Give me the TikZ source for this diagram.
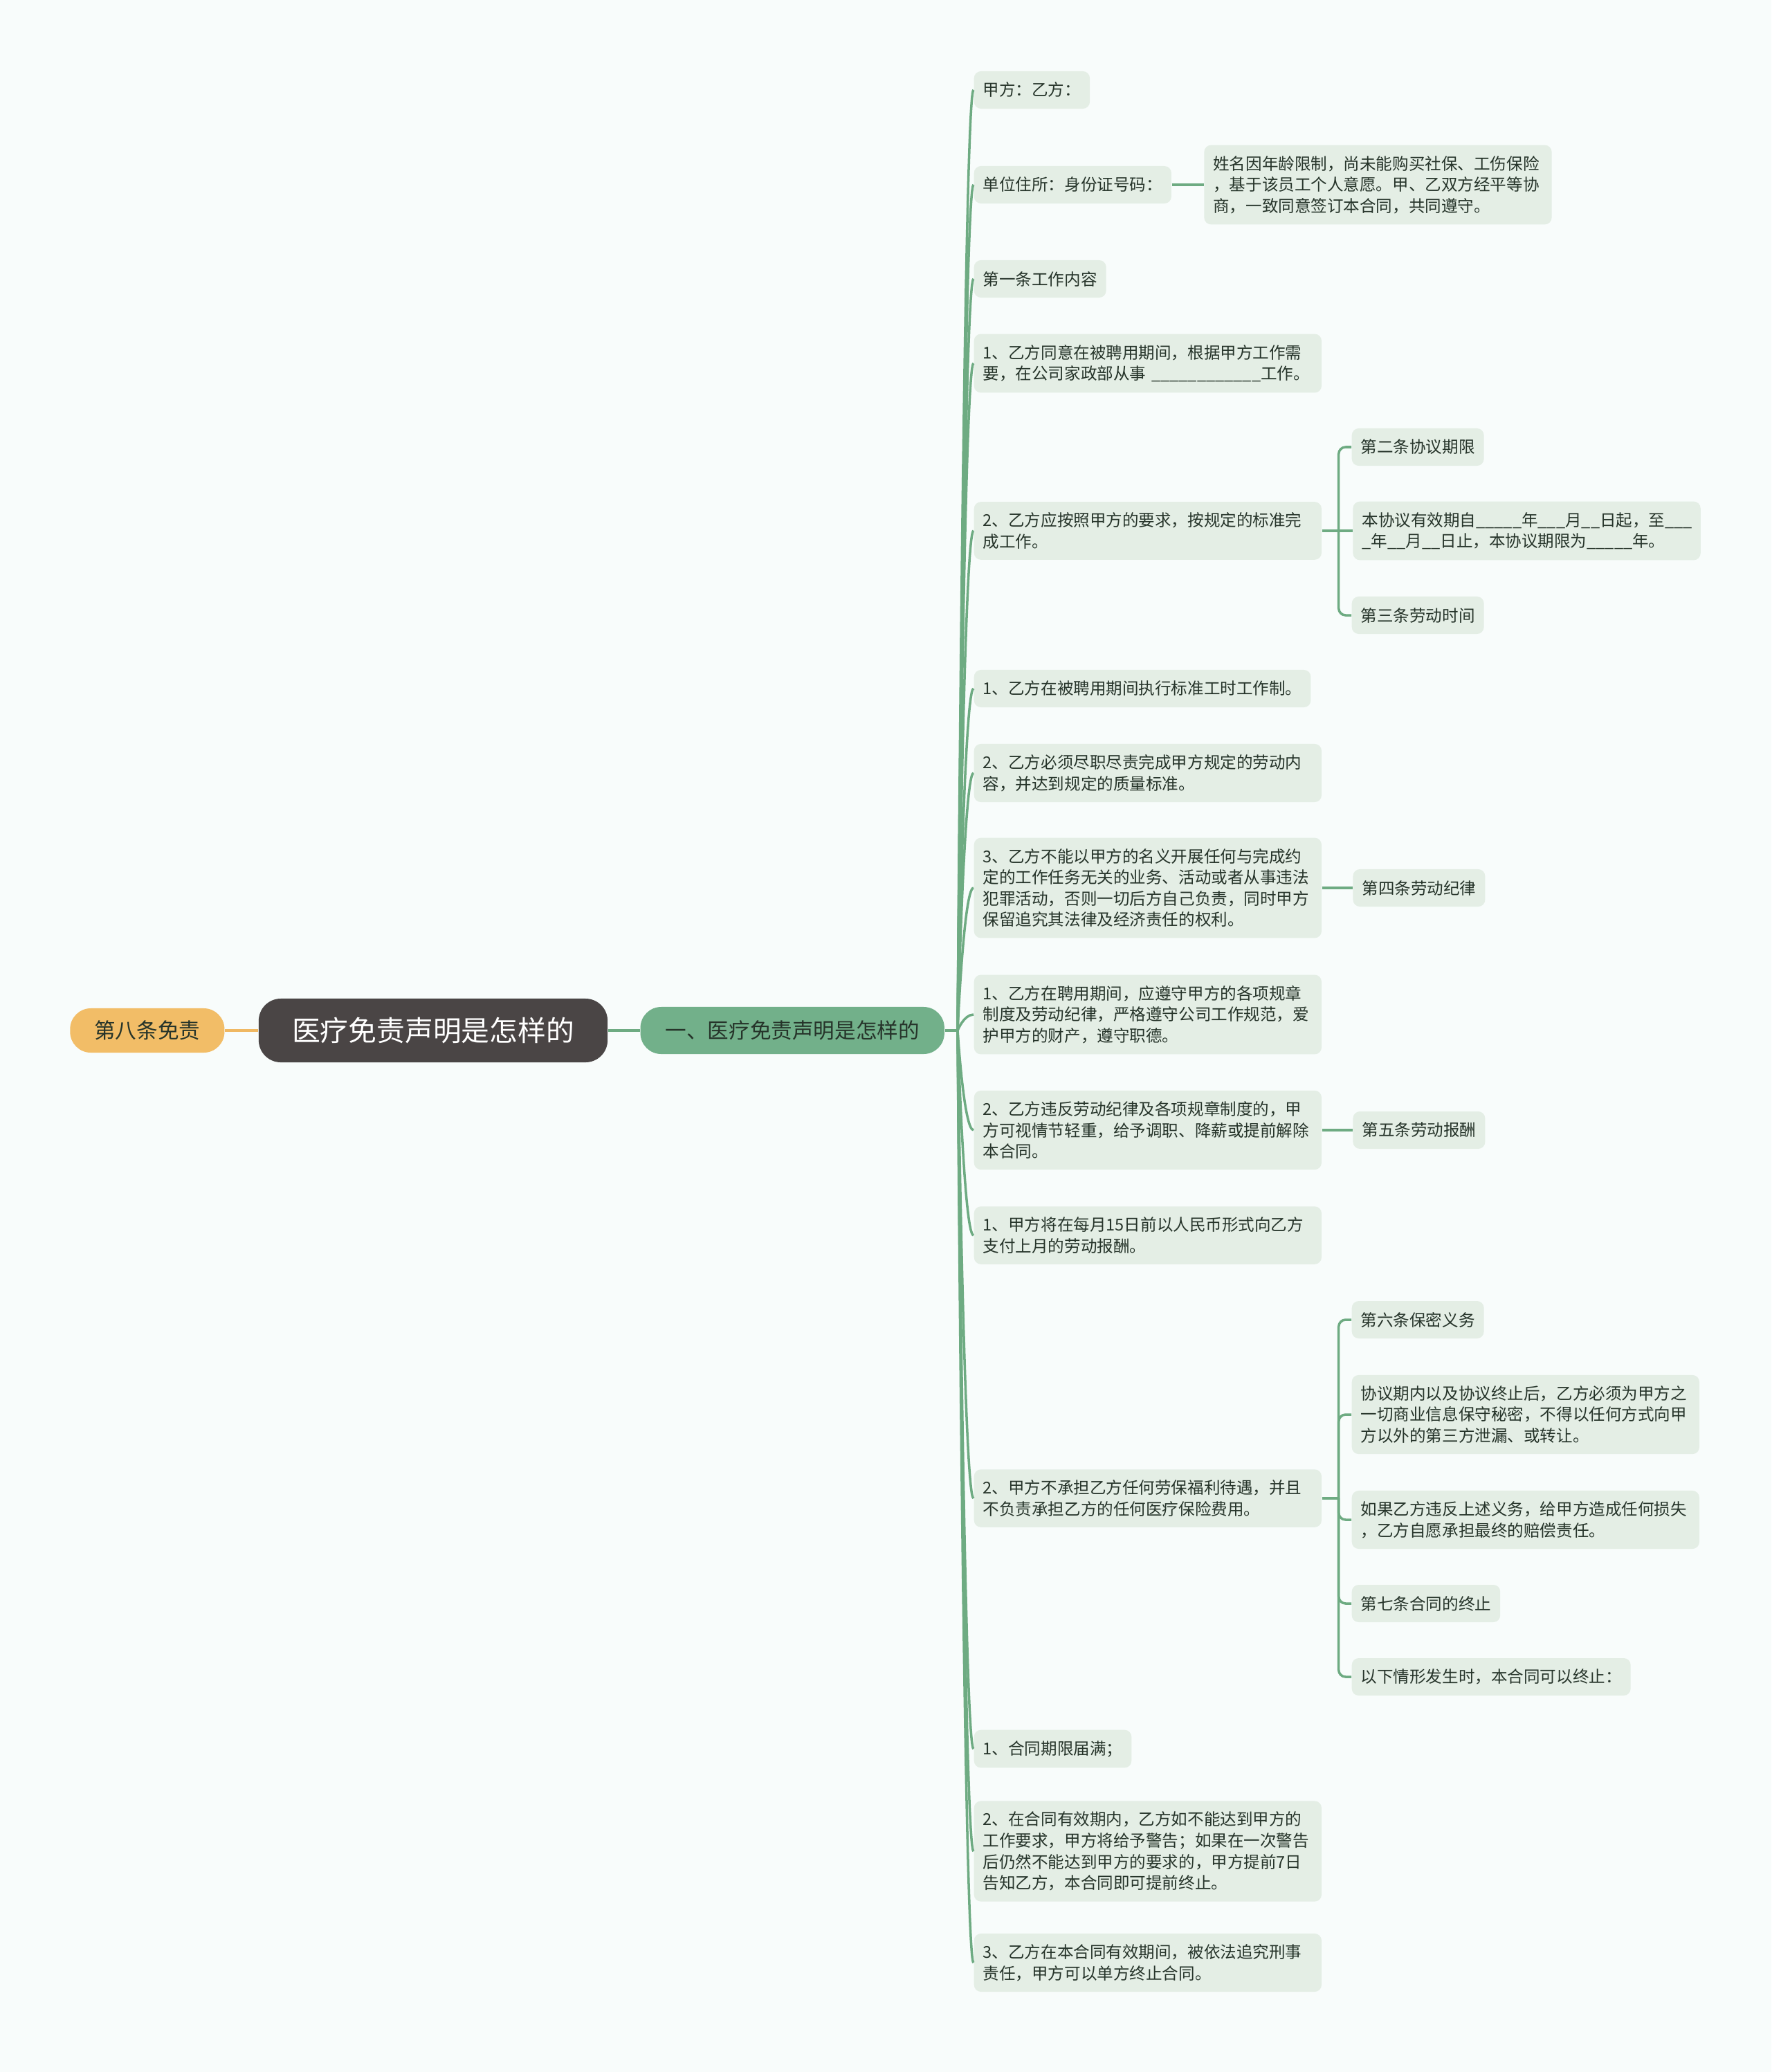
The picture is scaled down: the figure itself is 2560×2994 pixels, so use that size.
\documentclass[tikz,border=0pt]{standalone}
\usepackage{fontspec}
\setmainfont{Noto Sans CJK SC}
\usetikzlibrary{positioning}

\definecolor{bgc}{HTML}{F8FCFB}
\definecolor{boxc}{HTML}{E4EEE5}
\definecolor{linec}{HTML}{6EAB82}
\definecolor{topicc}{HTML}{72B08A}
\definecolor{rootc}{HTML}{4A4545}
\definecolor{tagc}{HTML}{F2BD67}
\definecolor{tagline}{HTML}{F0B862}
\definecolor{textc}{HTML}{26342A}

\begin{document}
\begin{tikzpicture}[
  x=0.01cm, y=-0.01cm,
  root/.style  = {fill=rootc, text=white, rounded corners=0.32cm, minimum width=5.04cm, minimum height=0.92cm, font=\fontsize{11.6}{14}\selectfont},
  topic/.style = {fill=topicc, text=textc, rounded corners=0.3cm, minimum width=4.39cm, minimum height=0.68cm, font=\fontsize{8.7}{10}\selectfont},
  tag/.style   = {fill=tagc, text=textc, rounded corners=0.3cm, minimum width=2.23cm, minimum height=0.64cm, font=\fontsize{8.7}{10}\selectfont},
  item/.style  = {fill=boxc, text=textc, rounded corners=0.1cm, inner xsep=0.13cm, inner ysep=0.155cm, minimum height=0.54cm, anchor=west, align=left, font=\fontsize{6.7}{8.7}\selectfont},
  wide/.style  = {item, text width=4.76cm},
  link/.style  = {draw=linec, line width=1pt},
]
  \useasboundingbox[fill=bgc] (0,0) rectangle (2560,2994);

  % Centre
  \node[root]                      (root)  at (626,1489) {医疗免责声明是怎样的};
  \node[tag, left=0.48cm of root]  (tag8)  {第八条免责};
  \node[topic, right=0.46cm of root] (topic) {一、医疗免责声明是怎样的};
  \coordinate (hub) at (1384,1489);

  % Second level
  \node[item] (a1)  at (1407,130)  {甲方：乙方：};
  \node[item] (a2)  at (1407,267)  {单位住所：身份证号码：};
  \node[item] (a3)  at (1407,403)  {第一条工作内容};
  \node[wide] (a4)  at (1407,525)  {1、乙方同意在被聘用期间，根据甲方工作需\\要，在公司家政部从事 \_\_\_\_\_\_\_\_\_\_\_\_工作。};
  \node[wide] (a5)  at (1407,767)  {2、乙方应按照甲方的要求，按规定的标准完\\成工作。};
  \node[item] (a6)  at (1407,995)  {1、乙方在被聘用期间执行标准工时工作制。};
  \node[wide] (a7)  at (1407,1117) {2、乙方必须尽职尽责完成甲方规定的劳动内\\容，并达到规定的质量标准。};
  \node[wide] (a8)  at (1407,1283) {3、乙方不能以甲方的名义开展任何与完成约\\定的工作任务无关的业务、活动或者从事违法\\犯罪活动，否则一切后方自己负责，同时甲方\\保留追究其法律及经济责任的权利。};
  \node[wide] (a9)  at (1407,1466) {1、乙方在聘用期间，应遵守甲方的各项规章\\制度及劳动纪律，严格遵守公司工作规范，爱\\护甲方的财产，遵守职德。};
  \node[wide] (a10) at (1407,1633) {2、乙方违反劳动纪律及各项规章制度的，甲\\方可视情节轻重，给予调职、降薪或提前解除\\本合同。};
  \node[wide] (a11) at (1407,1785) {1、甲方将在每月15日前以人民币形式向乙方\\支付上月的劳动报酬。};
  \node[wide] (a12) at (1407,2165) {2、甲方不承担乙方任何劳保福利待遇，并且\\不负责承担乙方的任何医疗保险费用。};
  \node[item] (a13) at (1407,2527) {1、合同期限届满；};
  \node[wide] (a14) at (1407,2675) {2、在合同有效期内，乙方如不能达到甲方的\\工作要求，甲方将给予警告；如果在一次警告\\后仍然不能达到甲方的要求的，甲方提前7日\\告知乙方，本合同即可提前终止。};
  \node[wide] (a15) at (1407,2836) {3、乙方在本合同有效期间，被依法追究刑事\\责任，甲方可以单方终止合同。};

  % Third level
  \node[wide, right=0.46cm of a2] (b2) {姓名因年龄限制，尚未能购买社保、工伤保险\\，基于该员工个人意愿。甲、乙双方经平等协\\商，一致同意签订本合同，共同遵守。};
  \node[item] (b5a) at (1953,646) {第二条协议期限};
  \node[wide, right=0.44cm of a5] (b5b) {本协议有效期自\_\_\_\_\_年\_\_\_月\_\_日起，至\_\_\_\\\_年\_\_月\_\_日止，本协议期限为\_\_\_\_\_年。};
  \node[item] (b5c) at (1953,889) {第三条劳动时间};
  \node[item, right=0.44cm of a8]  (b8)  {第四条劳动纪律};
  \node[item, right=0.44cm of a10] (b10) {第五条劳动报酬};
  \node[item] (b12a) at (1953,1907) {第六条保密义务};
  \node[wide] (b12b) at (1953,2044) {协议期内以及协议终止后，乙方必须为甲方之\\一切商业信息保守秘密，不得以任何方式向甲\\方以外的第三方泄漏、或转让。};
  \node[wide] (b12c) at (1953,2196) {如果乙方违反上述义务，给甲方造成任何损失\\，乙方自愿承担最终的赔偿责任。};
  \node[item] (b12d) at (1953,2317) {第七条合同的终止};
  \node[item] (b12e) at (1953,2423) {以下情形发生时，本合同可以终止：};

  % Trunk
  \draw[draw=tagline, line width=1.4pt] (tag8) -- (root);
  \draw[link, line width=1.4pt] (root) -- (topic);
  \draw[link] (topic) -- (hub);

  % Branches to second level
  \draw[link] (hub) .. controls (hub) and +(-14,0) .. (a1.west);
  \draw[link] (hub) .. controls (hub) and +(-14,0) .. (a2.west);
  \draw[link] (hub) .. controls (hub) and +(-14,0) .. (a3.west);
  \draw[link] (hub) .. controls (hub) and +(-14,0) .. (a4.west);
  \draw[link] (hub) .. controls (hub) and +(-14,0) .. (a5.west);
  \draw[link] (hub) .. controls (hub) and +(-14,0) .. (a6.west);
  \draw[link] (hub) .. controls (hub) and +(-14,0) .. (a7.west);
  \draw[link] (hub) .. controls (hub) and +(-14,0) .. (a8.west);
  \draw[link] (hub) .. controls (hub) and +(-14,0) .. (a9.west);
  \draw[link] (hub) .. controls (hub) and +(-14,0) .. (a10.west);
  \draw[link] (hub) .. controls (hub) and +(-14,0) .. (a11.west);
  \draw[link] (hub) .. controls (hub) and +(-14,0) .. (a12.west);
  \draw[link] (hub) .. controls (hub) and +(-14,0) .. (a13.west);
  \draw[link] (hub) .. controls (hub) and +(-14,0) .. (a14.west);
  \draw[link] (hub) .. controls (hub) and +(-14,0) .. (a15.west);

  % Branches to third level
  \draw[link] (a2) -- (b2);
  \draw[link] (a8) -- (b8);
  \draw[link] (a10) -- (b10);
  \coordinate (j5) at ([xshift=0.24cm]a5.east);
  \draw[link] (a5) -- (b5b);
  \draw[link, rounded corners=0.1cm] (j5) |- (b5a.west);
  \draw[link, rounded corners=0.1cm] (j5) |- (b5c.west);
  \coordinate (j12) at ([xshift=0.24cm]a12.east);
  \draw[link] (a12) -- (j12);
  \draw[link, rounded corners=0.1cm] (j12) |- (b12a.west);
  \draw[link, rounded corners=0.1cm] (j12) |- (b12b.west);
  \draw[link, rounded corners=0.1cm] (j12) |- (b12c.west);
  \draw[link, rounded corners=0.1cm] (j12) |- (b12d.west);
  \draw[link, rounded corners=0.1cm] (j12) |- (b12e.west);
\end{tikzpicture}
\end{document}
